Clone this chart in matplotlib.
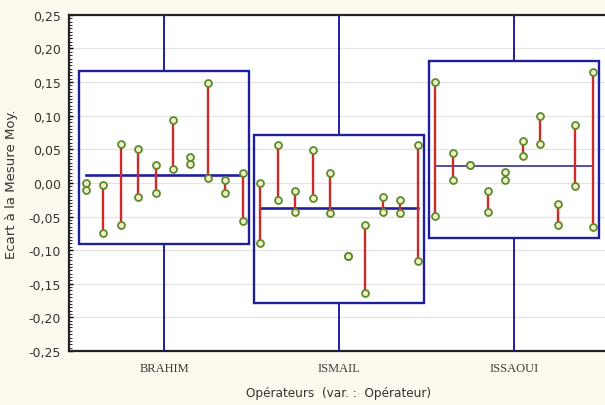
import numpy as np
import matplotlib.pyplot as plt
from matplotlib.patches import Rectangle
from matplotlib.ticker import MultipleLocator, FuncFormatter

operateurs = ["BRAHIM", "ISMAIL", "ISSAOUI"]

# ecarts a la mesure moyenne, deux essais par piece (10 pieces par operateur)
essai_1 = {
    "BRAHIM": [0.000, -0.003, 0.058, 0.050, 0.026, 0.093, 0.039, 0.148, 0.004, 0.015],
    "ISMAIL": [0.000, 0.056, -0.012, 0.049, 0.015, -0.109, -0.062, -0.021, -0.025, 0.056],
    "ISSAOUI": [0.150, 0.045, 0.027, -0.012, 0.016, 0.062, 0.099, -0.032, 0.086, 0.165],
}
essai_2 = {
    "BRAHIM": [-0.010, -0.075, -0.062, -0.021, -0.015, 0.021, 0.028, 0.008, -0.015, -0.056],
    "ISMAIL": [-0.090, -0.026, -0.043, -0.022, -0.045, -0.109, -0.163, -0.043, -0.045, -0.116],
    "ISSAOUI": [-0.049, 0.004, 0.027, -0.043, 0.004, 0.040, 0.058, -0.063, -0.005, -0.065],
}

# bornes des boites
boite_bas = [-0.091, -0.179, -0.082]
boite_haut = [0.166, 0.071, 0.182]

bleu = "#1f1f9e"
rouge = "#cf2a2a"
vert = "#5e8a2c"

fig = plt.figure(figsize=(6.05, 4.06), dpi=100)
fig.patch.set_facecolor("#fdf9ee")
ax = fig.add_axes([0.114, 0.133, 0.893, 0.828])
ax.set_facecolor("white")

ax.set_xlim(-0.545, 2.545)
ax.set_ylim(-0.25, 0.25)

pos_pieces = np.linspace(-0.45, 0.45, 10)
largeur = 0.97
epaisseur_moy = [1.9, 1.9, 1.1]

for i, op in enumerate(operateurs):
    e1 = np.array(essai_1[op])
    e2 = np.array(essai_2[op])
    moy = np.mean(np.concatenate([e1, e2]))

    # boite + moustaches jusqu'aux bords
    ax.add_patch(Rectangle((i - largeur / 2, boite_bas[i]), largeur,
                           boite_haut[i] - boite_bas[i], fill=False,
                           edgecolor=bleu, lw=1.7, zorder=3))
    ax.plot([i, i], [boite_haut[i], 0.25], color=bleu, lw=1.4, zorder=3)
    ax.plot([i, i], [boite_bas[i], -0.25], color=bleu, lw=1.4, zorder=3)

    x = i + pos_pieces
    ax.plot([x[0], x[-1]], [moy, moy], color=bleu, lw=epaisseur_moy[i], zorder=4)
    ax.vlines(x, e1, e2, color=rouge, lw=1.7, zorder=5)
    ax.plot(x, e1, "o", ms=5, mfc="#eef0c8", mec=vert, mew=1.3, zorder=6)
    ax.plot(x, e2, "o", ms=5, mfc="#eef0c8", mec=vert, mew=1.3, zorder=6)

ax.yaxis.set_major_locator(MultipleLocator(0.05))
ax.yaxis.set_minor_locator(MultipleLocator(0.005))
ax.yaxis.set_major_formatter(FuncFormatter(lambda v, p: f"{v:.2f}".replace(".", ",").replace("-0,00", "0,00")))
ax.grid(axis="y", color="#e4e4e4", lw=0.9)
ax.set_axisbelow(True)
ax.tick_params(axis="y", which="major", direction="in", length=3, width=1,
               labelsize=9, pad=6, labelcolor="#333333")
ax.tick_params(axis="y", which="minor", direction="in", length=2, width=0.6)

ax.set_xticks(range(len(operateurs)))
ax.set_xticklabels(operateurs, family="Liberation Serif", fontsize=9, color="#3a3a3a")
ax.tick_params(axis="x", length=0, pad=8)

for s in ["top", "bottom", "left"]:
    ax.spines[s].set_linewidth(1.6)
    ax.spines[s].set_color("#222222")
ax.spines["right"].set_visible(False)

ax.set_ylabel("Ecart à la Mesure Moy.", fontsize=9.5, color="#333333", labelpad=7)
fig.text(0.56, 0.022, "Opérateurs  (var. :  Opérateur)", ha="center",
         fontsize=8.7, color="#333333")

fig.savefig("out.png", dpi=100, facecolor=fig.get_facecolor())
